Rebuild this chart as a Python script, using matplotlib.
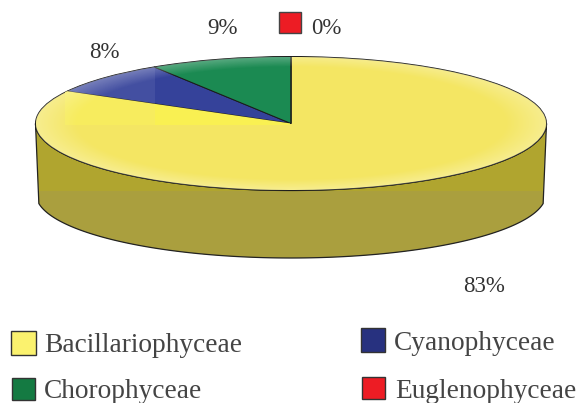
import matplotlib
matplotlib.use('Agg')
import matplotlib.pyplot as plt
from matplotlib.patches import Rectangle, Polygon, Circle
import numpy as np

categories = ['Bacillariophyceae', 'Cyanophyceae', 'Chorophyceae', 'Euglenophyceae']
values = [83, 8, 9, 0]
colors = ['#f4e663', '#35429a', '#1b8a52', '#ed1c24']
swatch_colors = ['#fbf26e', '#27317f', '#147a42', '#ed1c24']

W, H = 579, 403
cx, cy, rx, ry = 291, 123.5, 255.5, 67

plt.rcParams['font.family'] = ['Liberation Serif', 'DejaVu Serif']
fig = plt.figure(figsize=(W / 100, H / 100), dpi=100)

# pixel overlay for wall, legend and labels
px = fig.add_axes([0, 0, 1, 1])
px.set_xlim(0, W)
px.set_ylim(H, 0)
px.axis('off')

# side wall of the disc
t = np.linspace(np.pi, 0, 200)
top_x = cx + rx * np.cos(t)
top_y = cy + ry * np.sin(t)
t2 = np.linspace(0.15, np.pi - 0.15, 200)
low_x = cx + (rx - 0.5) * np.cos(t2)
low_y = 194 + 64 * np.sin(t2)
outline = np.r_[np.c_[top_x, top_y], np.c_[low_x, low_y]]
wall = Polygon(outline, closed=True, facecolor='#b0a52f', edgecolor='none', zorder=1)
px.add_patch(wall)
band = Rectangle((0, 191), W, 80, facecolor='#aa9f3e', edgecolor='none', zorder=1.1)
px.add_patch(band)
band.set_clip_path(wall)
px.add_patch(Polygon(outline, closed=True, facecolor='none', edgecolor='#222222',
                     linewidth=0.9, zorder=1.2))


def to_pie(x, y):
    return (x - cx) / rx, (cy - y) / ry


# top of the disc, squeezed to an ellipse
ax = fig.add_axes([(cx - rx) / W, (H - cy - ry) / H, 2 * rx / W, 2 * ry / H])
ax.patch.set_alpha(0)
wedges, _ = ax.pie(values, colors=colors, startangle=90, counterclock=False, radius=1,
                   wedgeprops=dict(edgecolor='#1a1a1a', linewidth=0.7))

# the brighter patch left of the centre
x0, y0 = to_pie(155, 125)
x1, y1 = to_pie(290, 90)
bright = Rectangle((x0, y0), x1 - x0, y1 - y0, facecolor='#f9f052', edgecolor='none', zorder=1.5)
ax.add_patch(bright)
bright.set_clip_path(wedges[0])
x2, y2 = to_pie(65, 125)
bright2 = Rectangle((x2, y0), x0 - x2, y1 - y0, facecolor='#f7ec5e', edgecolor='none', zorder=1.5)
ax.add_patch(bright2)
bright2.set_clip_path(wedges[0])
x3, y3 = to_pie(155, 60)
pale = Rectangle((-1, y0), x0 + 1, y3 - y0, facecolor='white', alpha=0.07, edgecolor='none', zorder=1.5)
ax.add_patch(pale)
pale.set_clip_path(wedges[1])

# lighter rim
yy, xx = np.mgrid[-1:1:300j, -1:1:600j]
rr = np.hypot(xx, yy)
glow = np.zeros(rr.shape + (4,))
glow[..., :3] = 1.0
glow[..., 3] = np.clip((rr - 0.84) / 0.16, 0, 1) * 0.28
im = ax.imshow(glow, extent=(-1, 1, -1, 1), origin='lower', zorder=3)
im.set_clip_path(Circle((0, 0), 1, transform=ax.transData))
ax.set_xlim(-1, 1)
ax.set_ylim(-1, 1)
ax.set_aspect('auto')

# percentage labels
label_pos = [(484.5, 287), (104, 52), (222, 28.5), (326, 28.5)]
for v, (x, y) in zip(values, label_pos):
    px.text(x, y, f'{v}%', fontsize=16.5, color='#333333', ha='center', va='center')

# the red swatch next to 0%
px.add_patch(Rectangle((278.5, 11.5), 22, 21, facecolor=colors[3], edgecolor='#444444', linewidth=1))

# legend
swatches = [(11, 331, 25, 24), (361, 328, 24, 24), (12, 378, 23, 22), (362, 377, 23, 22)]
text_pos = [(44, 346), (394, 344), (44, 392), (395, 392)]
for name, col, (x, y, w, h), (tx, ty) in zip(categories, swatch_colors, swatches, text_pos):
    px.add_patch(Rectangle((x, y), w, h, facecolor=col, edgecolor='#333333', linewidth=1))
    px.text(tx, ty, name, fontsize=19.7, color='#444444', ha='left', va='center')

fig.savefig('out.png', dpi=100)
